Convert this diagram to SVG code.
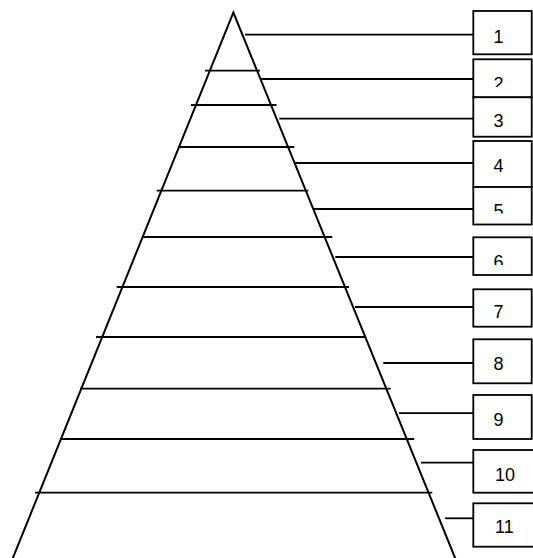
<svg xmlns="http://www.w3.org/2000/svg" width="533" height="558" viewBox="0 0 533 558">
<style>
.ln{stroke:#000;stroke-width:1.8;fill:none}
.tri{stroke:#000;stroke-width:2;fill:none}
.box{fill:#fff;stroke:#000;stroke-width:1.8}
.lbl{font-family:"Liberation Sans",Arial,sans-serif;font-size:18px;fill:#000}
</style>
<defs>
<clipPath id="c2"><rect x="474" y="60" width="57" height="27"/></clipPath>
<clipPath id="c3"><rect x="474" y="98" width="57" height="29"/></clipPath>
<clipPath id="c5"><rect x="474" y="188" width="57" height="25.5"/></clipPath>
<clipPath id="c6"><rect x="474" y="238" width="57" height="27"/></clipPath>
</defs>
<rect width="533" height="558" fill="#fff"/>
<g id="pyramid">
<polyline class="tri" points="8,570 233.4,12.5 460,570"/>
</g>
<g id="connectors">
<line class="ln" x1="205" y1="70.7" x2="260" y2="70.7"/>
<line class="ln" x1="191" y1="105" x2="276.5" y2="105"/>
<line class="ln" x1="178" y1="147" x2="294.3" y2="147"/>
<line class="ln" x1="156.7" y1="190.7" x2="308.3" y2="190.7"/>
<line class="ln" x1="143" y1="237" x2="332.3" y2="237"/>
<line class="ln" x1="116.7" y1="287" x2="349" y2="287"/>
<line class="ln" x1="96" y1="337" x2="365" y2="337"/>
<line class="ln" x1="80" y1="388.7" x2="390.7" y2="388.7"/>
<line class="ln" x1="61" y1="439" x2="414.2" y2="439"/>
<line class="ln" x1="35" y1="492.7" x2="432.3" y2="492.7"/>
<line class="ln" x1="245" y1="34.7" x2="474" y2="34.7"/>
<line class="ln" x1="261" y1="79" x2="474" y2="79"/>
<line class="ln" x1="279.3" y1="118.7" x2="474" y2="118.7"/>
<line class="ln" x1="294.3" y1="163" x2="474" y2="163"/>
<line class="ln" x1="313.3" y1="209" x2="474" y2="209"/>
<line class="ln" x1="335.3" y1="257" x2="474" y2="257"/>
<line class="ln" x1="355" y1="307" x2="474" y2="307"/>
<line class="ln" x1="383.3" y1="363" x2="474" y2="363"/>
<line class="ln" x1="399" y1="413.2" x2="474" y2="413.2"/>
<line class="ln" x1="421" y1="462.7" x2="474" y2="462.7"/>
<line class="ln" x1="445" y1="518.3" x2="474" y2="518.3"/>
</g>
<g id="box1"><rect class="box" x="473.3" y="11" width="58.4" height="43.3"/><text class="lbl" x="493.5" y="42.5">1</text></g>
<g id="box2"><rect class="box" x="473.3" y="59.3" width="58.4" height="38"/><text class="lbl" x="493.5" y="89.5" clip-path="url(#c2)">2</text></g>
<g id="box3"><rect class="box" x="473.3" y="97.3" width="58.4" height="39.4"/><text class="lbl" x="493.5" y="127" clip-path="url(#c3)">3</text></g>
<g id="box4"><rect class="box" x="473.3" y="141" width="58.4" height="46"/><text class="lbl" x="493.5" y="172">4</text></g>
<g id="box5"><rect class="box" x="473.3" y="187" width="58.4" height="37.5"/><text class="lbl" x="493.5" y="217" clip-path="url(#c5)">5</text></g>
<g id="box6"><rect class="box" x="473.3" y="237.3" width="58.4" height="37.7"/><text class="lbl" x="493.5" y="268" clip-path="url(#c6)">6</text></g>
<g id="box7"><rect class="box" x="473.3" y="289.3" width="58.4" height="37.4"/><text class="lbl" x="493.5" y="317.5">7</text></g>
<g id="box8"><rect class="box" x="473.3" y="339.3" width="58.4" height="44"/><text class="lbl" x="493.5" y="370">8</text></g>
<g id="box9"><rect class="box" x="473.3" y="395" width="58.4" height="44"/><text class="lbl" x="493.5" y="426">9</text></g>
<g id="box10"><rect class="box" x="473.3" y="450" width="75" height="42.7"/><text class="lbl" x="495" y="481">10</text></g>
<g id="box11"><rect class="box" x="473.3" y="503.3" width="75" height="43.4"/><text class="lbl" x="495" y="533.3">11</text></g>
</svg>
